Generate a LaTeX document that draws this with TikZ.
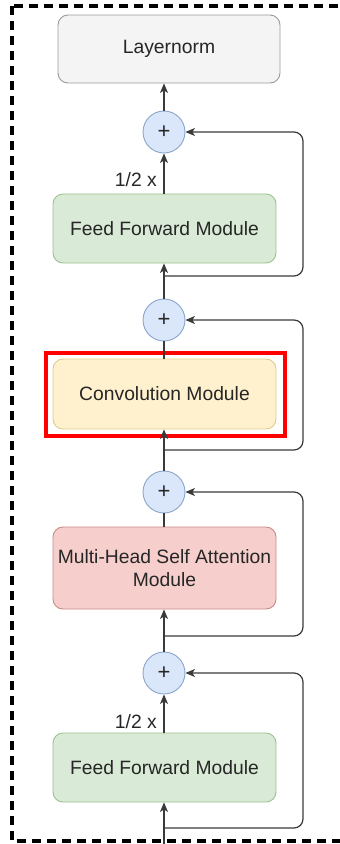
\documentclass[tikz,border=0pt]{standalone}
\usepackage{fontspec}
\setmainfont{Liberation Sans}
\usetikzlibrary{arrows.meta,calc}

\definecolor{txt}{HTML}{262626}
\definecolor{wire}{HTML}{3A3A3A}
\definecolor{grayfill}{HTML}{F4F4F4}\definecolor{graydraw}{HTML}{9A9A9A}
\definecolor{greenfill}{HTML}{D9EAD6}\definecolor{greendraw}{HTML}{9CC28E}
\definecolor{yellowfill}{HTML}{FFF1CE}\definecolor{yellowdraw}{HTML}{E0CB8A}
\definecolor{redfill}{HTML}{F6CFCD}\definecolor{reddraw}{HTML}{C98986}
\definecolor{bluefill}{HTML}{DAE6F9}\definecolor{bluedraw}{HTML}{8AA6CE}

\tikzset{
  block/.style={draw, rounded corners=10pt, line width=0.9pt, inner sep=0pt,
    minimum width=223pt, text=txt, align=center,
    font=\fontsize{19.3}{23}\selectfont},
  sumnode/.style={circle, draw=bluedraw, fill=bluefill, line width=0.9pt,
    minimum size=42pt, inner sep=0pt, text=txt,
    font=\fontsize{22}{22}\selectfont},
  arr/.style={draw=wire, line width=1.2pt,
    -{Stealth[length=9.5pt,width=8pt,inset=2.5pt]}},
  wireline/.style={draw=wire, line width=1.2pt},
  skip/.style={arr, rounded corners=9pt},
  scalelabel/.style={anchor=east, inner sep=0pt, text=txt,
    font=\fontsize{19.3}{23}\selectfont},
}

\begin{document}
\begin{tikzpicture}[x=1pt, y=-1pt]
\useasboundingbox (0,0) rectangle (340,844);

% outer dashed frame of the block
\draw[line width=3.2pt, dash pattern=on 9pt off 6pt] (12,6) rectangle (360,841);

% blocks, top to bottom
\node[block, fill=grayfill, draw=graydraw, minimum width=222pt, minimum height=68pt]
  (ln) at (169,49) {Layernorm};
\node[sumnode] (p1) at (164,132) {+};
\node[block, fill=greenfill, draw=greendraw, minimum height=69pt]
  (ff1) at (164.5,228.5) {Feed Forward Module};
\node[sumnode] (p2) at (164,320) {+};
\node[block, fill=yellowfill, draw=yellowdraw, minimum height=70pt]
  (conv) at (164.5,394) {Convolution Module};
\node[sumnode] (p3) at (164,492) {+};
\node[block, fill=redfill, draw=reddraw, minimum height=82pt]
  (mhsa) at (164.5,568) {Multi-Head Self Attention\\Module};
\node[sumnode] (p4) at (164,673) {+};
\node[block, fill=greenfill, draw=greendraw, minimum height=69pt]
  (ff2) at (164.5,767.5) {Feed Forward Module};

% highlight around the convolution module
\node[draw=red, line width=3.3pt, minimum width=239pt, minimum height=83pt,
  inner sep=0pt] (hl) at (165.5,394.5) {};

% main path
\coordinate (in) at (164,846);
\draw[arr] (in) -- (in |- ff2.south);
\draw[arr] (p4.north) -- (p4.north |- mhsa.south);
\draw[wireline] (mhsa.north -| p3) -- (p3.south);
\draw[arr] (p3.north) -- (p3.north |- conv.south);
\draw[wireline] (conv.north -| p2) -- (p2.south);
\draw[arr] (p2.north) -- (p2.north |- ff1.south);
\draw[arr] (ff1.north -| p1) -- (p1.south);
\draw[arr] (p1.north) -- (p1.north |- ln.south);
\draw[arr] (ff2.north -| p4) -- (p4.south);

% half-step scaling labels
\node[scalelabel] (h1) at (157,180) {1/2 x};
\node[scalelabel] (h2) at (157,722) {1/2 x};

% residual connections
\coordinate (rail) at (303,0);
\coordinate (b1) at (164,276);
\coordinate (b2) at (164,450);
\coordinate (b3) at (164,636);
\coordinate (b4) at (164,828);
\draw[skip] (b1) -| (rail |- p1.east) -- (p1.east);
\draw[skip] (b2) -| (rail |- p2.east) -- (p2.east);
\draw[skip] (b3) -| (rail |- p3.east) -- (p3.east);
\draw[skip] (b4) -| (rail |- p4.east) -- (p4.east);
\end{tikzpicture}
\end{document}
